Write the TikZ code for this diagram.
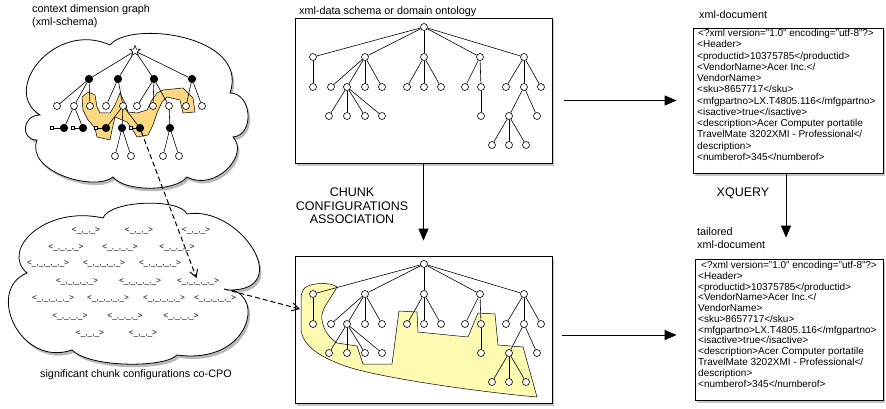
\documentclass[tikz,border=0pt]{standalone}
\usepackage{fontspec}
\setmainfont{Liberation Sans}
\usetikzlibrary{shapes.geometric,shadows,arrows.meta}
\newcommand\cfgc{<\_,\_,\_>}
\newcommand\cfgd{<\_,\_,\_,\_>}
\newcommand\cfge{<\_,\_,\_,\_,\_>}
\newcommand\ontotree{%
  \node[wn] (r) at (424,27) {};
  \foreach \n/\x in {a1/313,a2/365,a3/424,a4/480,a5/524} \node[wn] (\n) at (\x,57) {};
  \foreach \n/\x in {b1/313,b2/331,b3/347,b4/365,b5/382,b6/407,b7/424,b8/441,b9/465,b10/481,b11/506,b12/524,b13/541} \node[wn] (\n) at (\x,87) {};
  \foreach \n/\x in {c1/329,c2/347,c3/365,c4/382,c5/481,c6/509,c7/537} \node[wn] (\n) at (\x,116) {};
  \foreach \n/\x in {d1/492,d2/509,d3/526} \node[wn] (\n) at (\x,145) {};
  \foreach \p/\c in {r/a1,r/a2,r/a3,r/a4,r/a5,a1/b1,a2/b2,a2/b3,a2/b4,a2/b5,a3/b6,a3/b7,a3/b8,a4/b9,a4/b10,a5/b11,a5/b12,a5/b13,b3/c1,b3/c2,b3/c3,b3/c4,b10/c5,b12/c6,b12/c7,c6/d1,c6/d2,c6/d3} \draw[edge] (\p) -- (\c);
}
\begin{document}
\begin{tikzpicture}[x=1pt,y=-1pt,
  wn/.style={circle,draw,fill=white,minimum size=7pt,inner sep=0pt,line width=0.6pt},
  bn/.style={circle,draw,fill=black,minimum size=7.5pt,inner sep=0pt,line width=0.6pt},
  sqn/.style={rectangle,draw,fill=white,minimum size=3.2pt,inner sep=0pt,line width=0.5pt},
  edge/.style={line width=0.6pt},
  lbl/.style={font=\fontsize{10.8}{13}\selectfont,inner sep=0pt,anchor=west},
  biglbl/.style={font=\fontsize{12.5}{13.4}\selectfont,inner sep=0pt,align=center},
  cfg/.style={font=\fontsize{8.3}{9}\selectfont,inner sep=0.5pt},
  shbox/.style={draw,fill=white,line width=0.8pt,drop shadow={opacity=0.45,shadow xshift=1.5pt,shadow yshift=-2.5pt}},
  cloudsty/.style={draw,fill=white,line width=0.8pt,drop shadow={opacity=0.55,shadow xshift=2pt,shadow yshift=-3pt}},
  xmltxt/.style={inner sep=0pt,align=left,anchor=north west},
  arr/.style={line width=1pt,-{Triangle[length=12pt,width=10pt]}},
  dasharr/.style={line width=1pt,dash pattern=on 5pt off 3pt,-{Straight Barb[length=7pt,width=8pt]}},
  hiA/.style={fill={rgb,255:red,252;green,216;blue,128},draw,line width=0.5pt},
  hiB/.style={fill={rgb,255:red,255;green,250;blue,178},draw,line width=0.5pt}
]
\useasboundingbox (0,0) rectangle (886,409);

% ---------- labels ----------
\node[lbl] (t1) at (32,10) {context dimension graph};
\node[lbl] (t2) at (32,23) {(xml-schema)};
\node[lbl] (t3) at (299,12) {xml-data schema or domain ontology};
\node[lbl] (t4) at (40,375) {significant chunk configurations co-CPO};
\node[lbl] (t5) at (699,15) {xml-document};
\node[lbl] (t6) at (697,232) {tailored};
\node[lbl] (t7) at (697,245) {xml-document};
\node[biglbl] (chunk) at (352,206) {CHUNK\\CONFIGURATIONS\\ASSOCIATION};
\node[biglbl] (xq) at (743,193) {XQUERY};

% ---------- top cloud ----------
\path[cloudsty] (40,115) .. controls (0,90) and (55,20) .. (110,45)
  .. controls (130,20) and (250,35) .. (230,93)
  .. controls (252,93) and (255,135) .. (233,137)
  .. controls (250,155) and (215,192) .. (187,177)
  .. controls (175,192) and (125,192) .. (113,177)
  .. controls (95,192) and (25,172) .. (37,140)
  .. controls (20,140) and (22,115) .. (40,115) -- cycle;
\path[hiA] (82,97) -- (88,92) -- (95,95) -- (97,107) -- (100,113) -- (110,113) -- (115,105)
  -- (120,93) -- (125,103) -- (128,112) -- (137,113) -- (147,110) -- (152,100) -- (157,93)
  -- (163,90) -- (183,88) -- (193,98) -- (195,112) -- (183,113) -- (180,100) -- (167,97)
  -- (162,102) -- (157,113) -- (153,125) -- (148,135) -- (137,137) -- (133,130) -- (127,122)
  -- (115,117) -- (112,130) -- (110,140) -- (97,137) -- (95,128) -- (88,120) -- (83,110) -- cycle;
\node[star,star points=5,star point ratio=2.3,draw,fill=white,minimum size=11pt,inner sep=0pt,line width=0.6pt] (s0) at (135,51) {};
\foreach \n/\x in {k1/89,k2/118,k3/154,k4/192} \node[bn] (\n) at (\x,79) {};
\foreach \n/\x in {v1/57,v2/74,v3/90,v4/106,v5/123,v6/137,v7/153,v8/169,v9/186,v10/202} \node[wn] (\n) at (\x,106) {};
\foreach \n/\x in {m1/64,m2/83,m3/106,m4/122,m5/140,m6/170} \node[bn] (\n) at (\x,128) {};
\foreach \n/\x in {e1/115,e2/131,e3/163,e4/179} \node[wn] (\n) at (\x,156) {};
\foreach \n/\x in {q1/52,q2/73,q3/96,q4/131} \node[sqn] (\n) at (\x,128) {};
\foreach \p/\c in {s0/k1,s0/k2,s0/k3,s0/k4,k1/v1,k1/v2,k1/v3,k2/v4,k2/v5,k3/v6,k3/v7,k3/v8,k4/v9,k4/v10,v2/m1,v2/m2,v5/m3,v5/m4,v5/m5,v8/m6,m4/e1,m4/e2,m6/e3,m6/e4,q1/m1,q2/m2,q3/m3,q4/m5} \draw[edge] (\p) -- (\c);

% ---------- bottom cloud ----------
\path[cloudsty] (27,273) .. controls (0,250) and (45,205) .. (103,218)
  .. controls (110,200) and (180,198) .. (187,214)
  .. controls (240,205) and (295,290) .. (230,290)
  .. controls (265,295) and (250,365) .. (177,355)
  .. controls (165,368) and (90,368) .. (72,350)
  .. controls (20,368) and (-15,290) .. (27,273) -- cycle;
\foreach \n/\x/\y/\t in {p11/86/231/\cfgc,p12/139/231/\cfgc,p13/196/231/\cfgc,
  p21/66/248/\cfgd,p22/120/248/\cfgd,p23/177/248/\cfgd,
  p31/48/264/\cfge,p32/104/264/\cfge,p33/160/264/\cfge,
  p41/77/282/\cfge,p42/140/282/\cfge,p43/198/282/\cfge,
  p51/53/299/\cfge,p52/108/299/\cfge,p53/164/299/\cfge,p54/215/299/\cfge,
  p61/70/317/\cfgd,p62/125/317/\cfgd,p63/181/317/\cfgd,
  p71/90/334/\cfgc,p72/143/334/\cfgc}
  \node[cfg] (\n) at (\x,\y) {\t};

% ---------- ontology boxes ----------
\node[shbox,minimum width=257pt,minimum height=145pt,inner sep=0pt] (topbox) at (423.5,90.5) {};
\node[shbox,minimum width=257pt,minimum height=147pt,inner sep=0pt] (botbox) at (423.5,329.5) {};
\begin{scope}[name prefix=U-]
  \ontotree
\end{scope}
\path[hiB] (303,290) .. controls (306,283) and (330,281) .. (337,287)
  .. controls (330,300) and (320,310) .. (322,320)
  .. controls (324,332) and (330,338) .. (337,343)
  -- (357,346) -- (363,364) -- (392,364) -- (399,311) -- (417,312) -- (418,332)
  -- (468,337) -- (478,313) -- (495,314) -- (498,345) -- (523,347) -- (537,397)
  .. controls (480,392) and (380,378) .. (345,366)
  .. controls (320,357) and (303,346) .. (301,330)
  -- (301,300) .. controls (301,295) and (302,292) .. (303,290) -- cycle;
\begin{scope}[name prefix=L-,shift={(0,237)}]
  \ontotree
\end{scope}

% ---------- xml documents ----------
\node[shbox,minimum width=190pt,minimum height=145pt,inner sep=0pt] (xmldoc) at (788,100.5) {};
\node[xmltxt,font=\fontsize{10}{11.28}\selectfont] (xmltext) at (697,29) {\hspace{1pt}<?xml version="1.0" encoding="utf-8"?>\\
<Header>\\
<productid>10375785</productid>\\
<VendorName>Acer Inc.</\\
VendorName>\\
<sku>8657717</sku>\\
<mfgpartno>LX.T4805.116</mfgpartno>\\
<isactive>true</isactive>\\
<description>Acer Computer portatile\\
TravelMate 3202XMI - Professional</\\
description>\\
<numberof>345</numberof>};
\node[shbox,minimum width=188pt,minimum height=141pt,inner sep=0pt] (tailored) at (789,329.5) {};
\node[xmltxt,font=\fontsize{10}{10.78}\selectfont] (tailtext) at (698,261) {\hspace{3pt}<?xml version="1.0" encoding="utf-8"?>\\
<Header>\\
<productid>10375785</productid>\\
<VendorName>Acer Inc.</\\
VendorName>\\
<sku>8657717</sku>\\
<mfgpartno>LX.T4805.116</mfgpartno>\\
<isactive>true</isactive>\\
<description>Acer Computer portatile\\
TravelMate 3202XMI - Professional</\\
description>\\
<numberof>345</numberof>};

% ---------- connectors ----------
\draw[arr,shorten >=15pt] (topbox) -- (botbox);
\draw[arr,shorten <=12pt,shorten >=16pt] (topbox.east |- xmldoc.west) -- (xmldoc.west);
\draw[arr,shorten <=10pt,shorten >=18pt] ([yshift=-5.5pt]botbox.east) -- ([yshift=-5.5pt]tailored.west);
\draw[arr,shorten >=21pt] ([xshift=-2pt]xmldoc.south) -- ([xshift=-3pt]tailored.north);
\draw[dasharr] (m5) -- (p43);
\coordinate (d2s) at (224,289);
\coordinate (d2e) at (300,309);
\draw[dasharr] (d2s) -- (d2e);
\end{tikzpicture}
\end{document}
